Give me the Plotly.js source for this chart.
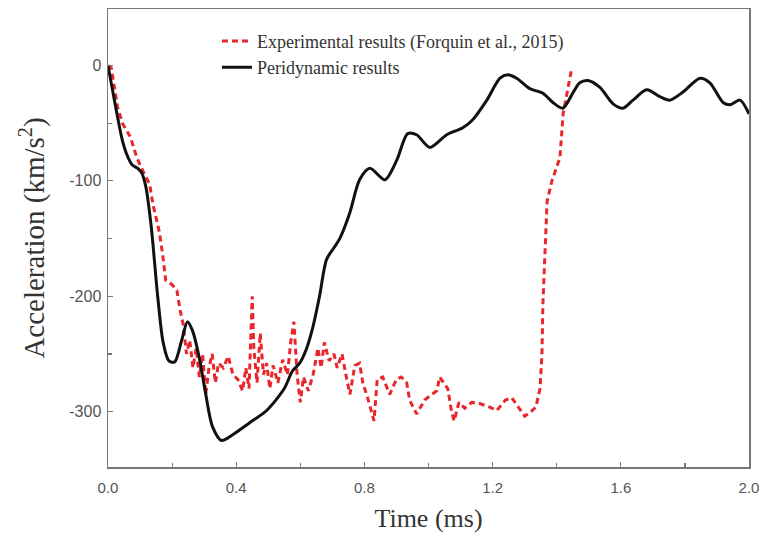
<!DOCTYPE html>
<html>
<head>
<meta charset="utf-8">
<script src="https://cdn.plot.ly/plotly-3.0.1.min.js"></script>
<style>html,body{margin:0;padding:0;background:#fff;}#chart{width:766px;height:540px;}</style>
</head>
<body>
<div id="chart"></div>
<script>
// Experimental results (Forquin et al., 2015)
const expTime = [0, 0.01, 0.03, 0.045, 0.07, 0.09, 0.11, 0.13, 0.14, 0.16, 0.17, 0.18, 0.2, 0.215, 0.225, 0.235, 0.245, 0.255, 0.265, 0.275, 0.285, 0.295, 0.305, 0.315, 0.325, 0.335, 0.345, 0.36, 0.375, 0.39, 0.405, 0.42, 0.43, 0.44, 0.445, 0.45, 0.455, 0.465, 0.475, 0.485, 0.495, 0.505, 0.515, 0.53, 0.545, 0.56, 0.57, 0.58, 0.59, 0.6, 0.61, 0.625, 0.64, 0.655, 0.665, 0.675, 0.69, 0.705, 0.715, 0.73, 0.745, 0.755, 0.77, 0.785, 0.795, 0.81, 0.83, 0.84, 0.857, 0.879, 0.9, 0.915, 0.932, 0.941, 0.963, 0.988, 1.01, 1.026, 1.035, 1.06, 1.072, 1.08, 1.095, 1.113, 1.135, 1.16, 1.19, 1.213, 1.24, 1.26, 1.28, 1.3, 1.32, 1.335, 1.348, 1.354, 1.357, 1.363, 1.37, 1.385, 1.41, 1.42, 1.435, 1.445];
const expAccel = [0, -2, -36, -50, -62, -80, -92, -103, -120, -144, -163, -186, -190, -195, -212, -225, -250, -238, -262, -245, -270, -250, -285, -262, -250, -275, -258, -262, -252, -268, -272, -282, -262, -280, -240, -200, -245, -275, -232, -268, -258, -280, -260, -275, -255, -268, -240, -222, -268, -292, -270, -282, -268, -245, -262, -240, -256, -250, -262, -250, -272, -285, -260, -258, -275, -288, -308, -272, -270, -285, -272, -270, -275, -290, -302, -290, -285, -282, -270, -280, -300, -308, -292, -297, -292, -293, -296, -299, -290, -288, -296, -304, -300, -296, -280, -250, -206, -160, -118, -100, -80, -42, -18, -5];

// Peridynamic results
const pdTime = [0, 0.014, 0.03, 0.045, 0.06, 0.075, 0.092, 0.105, 0.118, 0.135, 0.155, 0.172, 0.19, 0.208, 0.23, 0.248, 0.264, 0.286, 0.305, 0.326, 0.354, 0.389, 0.44, 0.495, 0.55, 0.575, 0.598, 0.62, 0.639, 0.66, 0.682, 0.705, 0.723, 0.754, 0.785, 0.817, 0.864, 0.901, 0.935, 0.963, 1.004, 1.057, 1.107, 1.138, 1.182, 1.223, 1.247, 1.275, 1.316, 1.357, 1.388, 1.419, 1.45, 1.472, 1.497, 1.535, 1.575, 1.607, 1.638, 1.681, 1.722, 1.753, 1.794, 1.847, 1.878, 1.919, 1.941, 1.972, 2.0];
const pdAccel = [0, -21, -45, -65, -78, -86, -89, -93, -105, -140, -200, -240, -256, -257, -238, -222, -230, -255, -285, -313, -325, -320, -310, -299, -280, -265, -258, -245, -227, -200, -168, -158, -150, -128, -99, -89, -99, -82, -59, -60, -71, -60, -54, -47, -30, -11, -8, -11, -20, -24, -32, -37, -24, -15, -13, -19, -33, -37, -30, -21, -27, -30, -23, -11, -15, -32, -34, -30, -42];

const xTicks = [0, 0.4, 0.8, 1.2, 1.6, 2.0];
const xTickText = ['0.0', '0.4', '0.8', '1.2', '1.6', '2.0'];
const yTicks = [0, -100, -200, -300];
const yTickText = ['0', '-100', '-200', '-300'];
const seriesNames = ['Experimental results (Forquin et al., 2015)', 'Peridynamic results'];

const serif = 'Liberation Serif, Times New Roman, serif';

const traces = [
  {
    x: expTime, y: expAccel, type: 'scatter', mode: 'lines', name: seriesNames[0],
    line: {color: '#e8262c', width: 3, dash: '6px,4px'}
  },
  {
    x: pdTime, y: pdAccel, type: 'scatter', mode: 'lines', name: seriesNames[1],
    line: {color: '#111111', width: 3, shape: 'spline', smoothing: 0.8}
  }
];

const axisCommon = {
  showgrid: false, zeroline: false, showline: true, mirror: true,
  linecolor: '#777', linewidth: 1.5,
  ticks: 'inside', ticklen: 5, tickcolor: '#777', tickwidth: 1.2,
  tickfont: {family: 'Liberation Sans, Arial, sans-serif', size: 15, color: '#555'}
};

const layout = {
  width: 766, height: 540,
  margin: {l: 108, r: 17, t: 9, b: 73},
  paper_bgcolor: '#fff', plot_bgcolor: '#fff',
  showlegend: true,
  legend: {
    x: 0.17, y: 0.97, xanchor: 'left', yanchor: 'top',
    bgcolor: 'rgba(0,0,0,0)', borderwidth: 0,
    font: {family: serif, size: 18, color: '#333'},
    tracegroupgap: 0
  },
  xaxis: Object.assign({}, axisCommon, {
    range: [0, 2], tickmode: 'array', tickvals: xTicks, ticktext: xTickText,
    ticklabelstandoff: 6,
    minor: {dtick: 0.2, ticks: 'inside', ticklen: 4, tickcolor: '#777'},
    title: {text: 'Time (ms)', font: {family: serif, size: 26, color: '#333'}, standoff: 14}
  }),
  yaxis: Object.assign({}, axisCommon, {
    range: [-348, 49], tickmode: 'array', tickvals: yTicks, ticktext: yTickText,
    tickfont: {family: 'Liberation Sans, Arial, sans-serif', size: 16, color: '#555'},
    ticklabelstandoff: 2,
    minor: {dtick: 50, ticks: 'inside', ticklen: 4, tickcolor: '#777'},
    title: {text: 'Acceleration (km/s<sup>2</sup>)', font: {family: serif, size: 29, color: '#333'}, standoff: 16}
  })
};

Plotly.newPlot('chart', traces, layout, {displayModeBar: false, staticPlot: true});
</script>
</body>
</html>
